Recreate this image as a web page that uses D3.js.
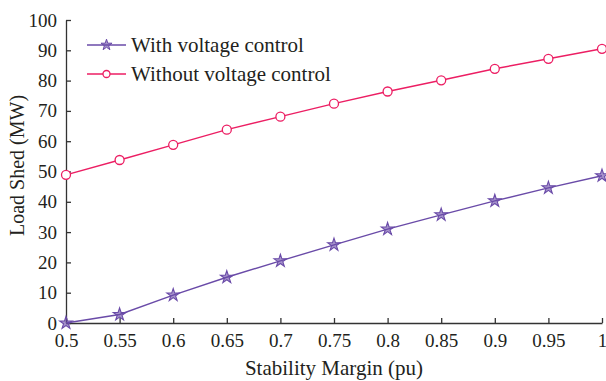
<!DOCTYPE html>
<html lang="en">
<head>
  <meta charset="UTF-8" />
  <title>Load Shed vs Stability Margin</title>
  <style>
    body { margin: 0; background: #fff; }
    svg text { font-family: "Liberation Serif", "DejaVu Serif", serif; fill: #231f20; }
  </style>
</head>
<body>
  <svg id="chart"></svg>

  <script src="https://d3js.org/d3.v7.min.js"></script>
  <script>
    const margins = [0.5, 0.55, 0.6, 0.65, 0.7, 0.75, 0.8, 0.85, 0.9, 0.95, 1];
    const withControl = [0, 2.8, 9.2, 15.1, 20.5, 25.8, 31, 35.7, 40.3, 44.6, 48.6];
    const withoutControl = [48.9, 53.8, 58.8, 63.8, 68.1, 72.4, 76.4, 80.1, 83.9, 87.2, 90.5];
    const xTicks = [0.5, 0.55, 0.6, 0.65, 0.7, 0.75, 0.8, 0.85, 0.9, 0.95, 1];
    const yTicks = [0, 10, 20, 30, 40, 50, 60, 70, 80, 90, 100];

    const W = 606, H = 381;
    const margin = { top: 20, right: 4, bottom: 58, left: 66 };
    const width = W - margin.left - margin.right;
    const height = H - margin.top - margin.bottom;

    const svg = d3.select("#chart").attr("width", W).attr("height", H);
    const g = svg.append("g").attr("transform", `translate(${margin.left},${margin.top})`);

    const x = d3.scaleLinear().domain([0.5, 1]).range([0, width]);
    const y = d3.scaleLinear().domain([0, 100]).range([height, 0]);

    const axisColor = "#333";

    const xAxis = g.append("g")
      .attr("transform", `translate(0,${height})`)
      .call(d3.axisBottom(x).tickValues(xTicks).tickSize(-5).tickSizeOuter(0)
        .tickFormat(d => String(d)));
    xAxis.selectAll("text").attr("dy", "1.1em").style("font-size", "19px");
    xAxis.selectAll("line, path").attr("stroke", axisColor).attr("stroke-width", 1.3);

    const yAxis = g.append("g")
      .call(d3.axisLeft(y).tickValues(yTicks).tickSize(-5).tickSizeOuter(0));
    yAxis.selectAll("text").attr("x", -9).style("font-size", "19px");
    yAxis.selectAll("line, path").attr("stroke", axisColor).attr("stroke-width", 1.3);

    svg.append("text")
      .attr("x", margin.left + width / 2)
      .attr("y", 375)
      .attr("text-anchor", "middle")
      .style("font-size", "21px")
      .text("Stability Margin (pu)");

    svg.append("text")
      .attr("transform", `translate(24,${margin.top + height / 2 - 6}) rotate(-90)`)
      .attr("text-anchor", "middle")
      .style("font-size", "20px")
      .text("Load Shed (MW)");

    const purple = "#6a4ba8";
    const pink = "#ec1e63";

    const line = d3.line().x(d => x(d[0])).y(d => y(d[1]));
    const star = d3.symbol().type(d3.symbolStar).size(50);

    const withData = margins.map((m, i) => [m, withControl[i]]);
    const withoutData = margins.map((m, i) => [m, withoutControl[i]]);

    g.append("path").datum(withoutData).attr("d", line)
      .attr("fill", "none").attr("stroke", pink).attr("stroke-width", 1.4);
    g.selectAll(".circ").data(withoutData).join("circle")
      .attr("class", "circ")
      .attr("cx", d => x(d[0])).attr("cy", d => y(d[1])).attr("r", 4.5)
      .attr("fill", "#fff").attr("stroke", pink).attr("stroke-width", 1.3);

    g.append("path").datum(withData).attr("d", line)
      .attr("fill", "none").attr("stroke", purple).attr("stroke-width", 1.4);
    g.selectAll(".star").data(withData).join("path")
      .attr("class", "star")
      .attr("transform", d => `translate(${x(d[0])},${y(d[1])})`)
      .attr("d", star)
      .attr("fill", purple).attr("fill-opacity", 0.6).attr("stroke", purple).attr("stroke-width", 1.1);

    // legend
    const legend = [
      { label: "With voltage control", color: purple, kind: "star" },
      { label: "Without voltage control", color: pink, kind: "circle" }
    ];
    const lg = svg.append("g").attr("transform", "translate(87,45)");
    legend.forEach((d, i) => {
      const row = lg.append("g").attr("transform", `translate(0,${i * 29})`);
      row.append("line").attr("x1", 0).attr("x2", 39).attr("y1", 0).attr("y2", 0)
        .attr("stroke", d.color).attr("stroke-width", 1.4);
      if (d.kind === "star") {
        row.append("path").attr("transform", "translate(19.5,0)")
          .attr("d", d3.symbol().type(d3.symbolStar).size(38))
          .attr("fill", d.color).attr("fill-opacity", 0.6).attr("stroke", d.color);
      } else {
        row.append("circle").attr("cx", 19.5).attr("cy", 0).attr("r", 3.5)
          .attr("fill", "#fff").attr("stroke", d.color).attr("stroke-width", 1.3);
      }
      row.append("text").attr("x", 44).attr("y", 0).attr("dy", "0.35em")
        .style("font-size", "21px").text(d.label);
    });
  </script>
</body>
</html>
